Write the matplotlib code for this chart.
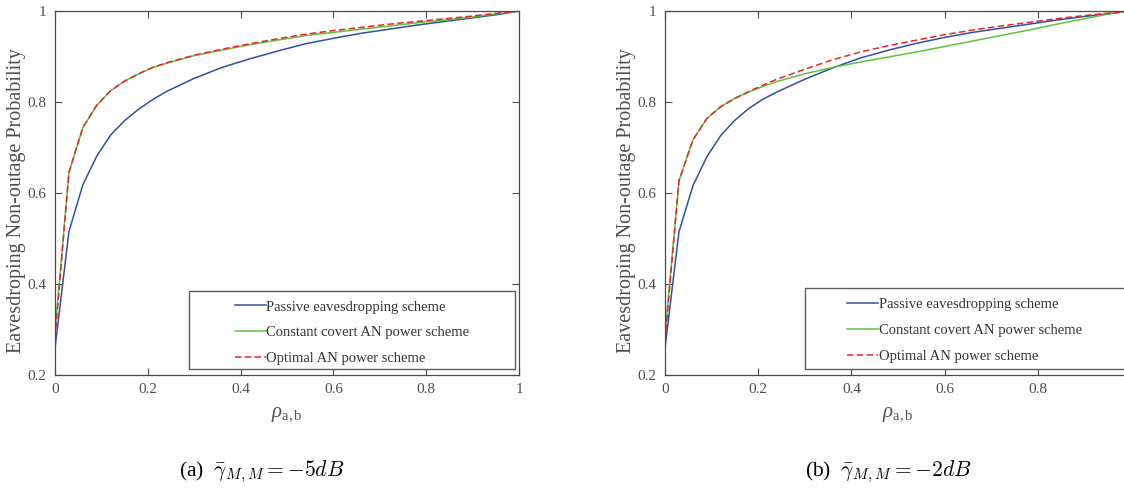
import matplotlib
matplotlib.use("Agg")
import matplotlib.pyplot as plt
from matplotlib.patches import Rectangle

plt.rcParams['font.family'] = ['Liberation Serif', 'DejaVu Serif']
plt.rcParams['mathtext.fontset'] = 'custom'
plt.rcParams['mathtext.rm'] = 'Liberation Serif'
plt.rcParams['mathtext.it'] = 'Liberation Serif:italic'

# correlation coefficient rho_{a,b}
rho = [0, 0.03, 0.06, 0.09, 0.12, 0.15, 0.18, 0.21, 0.24, 0.30, 0.36, 0.42,
       0.48, 0.54, 0.60, 0.66, 0.72, 0.78, 0.84, 0.90, 0.96, 1.0]

# (a) gamma_MM = -5 dB
passive_a = [0.259, 0.515, 0.618, 0.681, 0.7275, 0.759, 0.784, 0.805, 0.823,
             0.852, 0.876, 0.895, 0.912, 0.928, 0.940, 0.951, 0.960, 0.969,
             0.977, 0.985, 0.993, 1.0]
constant_a = [0.295, 0.6455, 0.7435, 0.7927, 0.8249, 0.846, 0.8615, 0.8754,
              0.885, 0.902, 0.914, 0.926, 0.936, 0.946, 0.953, 0.960, 0.967,
              0.974, 0.980, 0.987, 0.995, 1.0]
optimal_a = [0.280, 0.645, 0.744, 0.793, 0.825, 0.846, 0.862, 0.876, 0.886,
             0.903, 0.916, 0.928, 0.939, 0.949, 0.957, 0.964, 0.971, 0.977,
             0.983, 0.989, 0.996, 1.0]

# (b) gamma_MM = -2 dB
passive_b = [0.259, 0.515, 0.616, 0.680, 0.727, 0.760, 0.786, 0.806, 0.822,
             0.850, 0.875, 0.897, 0.914, 0.929, 0.942, 0.953, 0.962, 0.971,
             0.980, 0.988, 0.995, 1.0]
constant_b = [0.290, 0.627, 0.717, 0.764, 0.790, 0.808, 0.822, 0.834, 0.845,
              0.862, 0.876, 0.888, 0.899, 0.910, 0.922, 0.934, 0.946, 0.958,
              0.971, 0.983, 0.995, 1.0]
optimal_b = [0.275, 0.627, 0.717, 0.764, 0.790, 0.808, 0.823, 0.837, 0.850,
             0.872, 0.893, 0.910, 0.924, 0.936, 0.948, 0.958, 0.967, 0.975,
             0.983, 0.990, 0.996, 1.0]

labels = ['Passive eavesdropping scheme',
          'Constant covert AN power scheme',
          'Optimal AN power scheme']
x_ticks = [0, 0.2, 0.4, 0.6, 0.8, 1.0]
x_ticklabels_a = ['0', '0.2', '0.4', '0.6', '0.8', '1']
x_ticklabels_b = ['0', '0.2', '0.4', '0.6', '0.8', '']
y_ticks = [0.2, 0.4, 0.6, 0.8, 1.0]
y_ticklabels = ['0.2', '0.4', '0.6', '0.8', '1']
captions = [r'(a)  $\bar{\gamma}_{M,M}=-5dB$', r'(b)  $\bar{\gamma}_{M,M}=-2dB$']

BLUE = '#2f4fa8'
GREEN = '#62c03c'
RED = '#e8242a'
AX_GREY = '#4a4a4a'
TXT_GREY = '#4d4d4d'

W, H = 1124, 491
fig = plt.figure(figsize=(W / 100, H / 100), dpi=100)


def px_axes(x0, x1, ytop, ybot):
    return fig.add_axes([x0 / W, 1 - ybot / H, (x1 - x0) / W, (ybot - ytop) / H])


def panel(ax, passive, constant, optimal, xtl, box, anchor):
    ax.plot(rho, passive, color=BLUE, lw=1.1, label=labels[0])
    ax.plot(rho, constant, color=GREEN, lw=1.1, label=labels[1])
    ax.plot(rho, optimal, color=RED, lw=1.1, linestyle=(0, (4.2, 2.2)),
            label=labels[2])
    ax.set_xlim(0, 1)
    ax.set_ylim(0.2, 1.0)
    ax.set_xticks(x_ticks)
    ax.set_xticklabels(xtl)
    ax.set_yticks(y_ticks)
    ax.set_yticklabels(y_ticklabels)
    ax.tick_params(direction='in', length=5, width=0.8, color=AX_GREY,
                   labelcolor=TXT_GREY, labelsize=11, pad=6,
                   top=True, right=True)
    for s in ax.spines.values():
        s.set_color(AX_GREY)
        s.set_linewidth(0.9)
    ax.set_ylabel('Eavesdroping Non-outage Probability', fontsize=14.5,
                  color=TXT_GREY)
    ax.yaxis.set_label_coords(-0.062, 0.48)
    ax.set_xlabel(r'$\rho_{\mathrm{a,b}}$', fontsize=15, color=TXT_GREY,
                  labelpad=6)
    ax.add_patch(Rectangle(box[:2], box[2], box[3], transform=ax.transAxes,
                           facecolor='white', edgecolor='#5a5a5a', lw=1.0,
                           zorder=3, clip_on=False))
    leg = ax.legend(loc='upper left', bbox_to_anchor=anchor, frameon=False,
                    fontsize=10.5, handlelength=2.1, handletextpad=0.05,
                    labelspacing=0.86, borderpad=0, borderaxespad=0)
    leg.set_zorder(4)
    for t in leg.get_texts():
        t.set_color('#333333')


ax1 = px_axes(55, 519, 11, 375)
panel(ax1, passive_a, constant_a, optimal_a, x_ticklabels_a,
      (0.289, 0.0165, 0.703, 0.2143), (0.388, 0.205))

ax2 = px_axes(665, 1131, 11, 375)
panel(ax2, passive_b, constant_b, optimal_b, x_ticklabels_b,
      (0.301, 0.0165, 0.703, 0.2225), (0.391, 0.211))

fig.text(262 / W, 1 - 472 / H, captions[0], ha='center', va='center',
         fontsize=15.5, color='black', math_fontfamily='cm')
fig.text(888 / W, 1 - 472 / H, captions[1], ha='center', va='center',
         fontsize=15.5, color='black', math_fontfamily='cm')

fig.savefig('out.png', dpi=100)
